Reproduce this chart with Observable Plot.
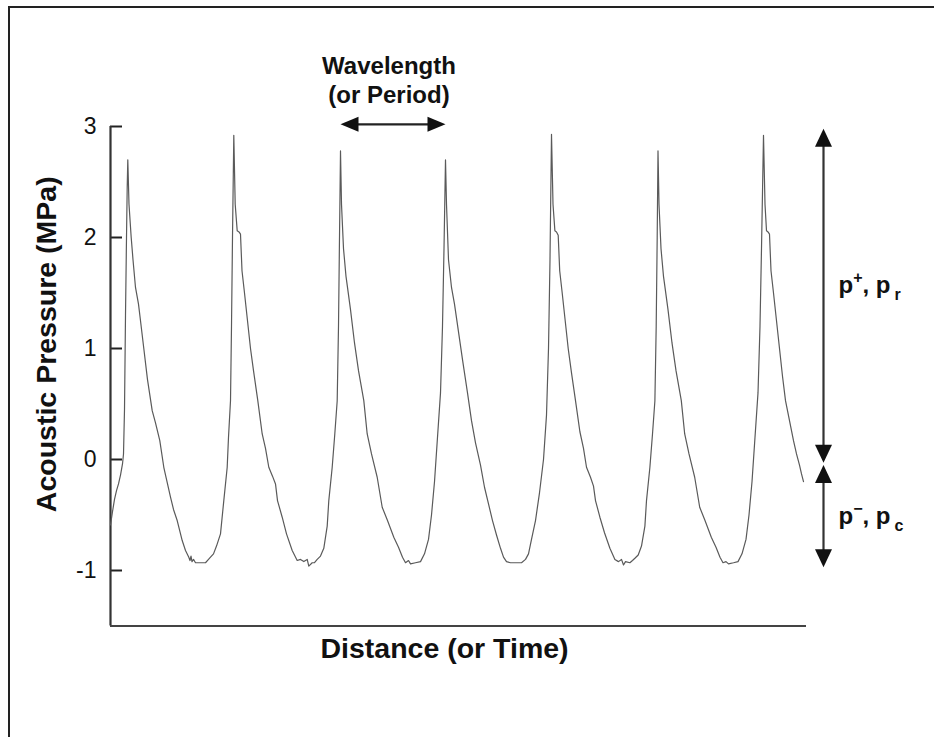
<!DOCTYPE html>
<html><head><meta charset="utf-8">
<script src="https://cdn.jsdelivr.net/npm/d3@7"></script>
<script src="https://cdn.jsdelivr.net/npm/@observablehq/plot@0.6"></script>
<style>
html,body{margin:0;padding:0;background:#fff;overflow:hidden;width:934px;height:737px;}
#chart{position:absolute;left:0;top:0;}
#frame{position:absolute;left:8px;top:6px;width:960px;height:760px;border-left:2px solid #222;border-top:2px solid #222;pointer-events:none;}
</style></head><body>
<div id="chart"></div><div id="frame"></div>
<script>
// ---- data (distance in arbitrary units, pressure in MPa) ----
const yTicks = [3, 2, 1, 0, -1];
const yDomain = [-1.5, 3];
const xDomain = [0, 696];
const yTitle = "Acoustic Pressure (MPa)";
const xTitle = "Distance (or Time)";
const waveLabel = "Wavelength\n(or Period)";

const cycle1 = [[0,-0.59],[2,-0.47],[4,-0.36],[6,-0.28],[8,-0.22],[10,-0.14],[12,-0.04],[13,0.05],[14,0.45],[15,1.3],[16,2.0],[16.7,2.45],[17.3,2.70],
  [18.5,2.3],[20.7,2.0],[22.5,1.8],[25,1.55],[28,1.4],[30,1.25],[33.3,1.0],[37,0.72],[41.7,0.44],[45,0.33],[49.3,0.17],[53.3,-0.07],[56,-0.18],[60,-0.34],[63,-0.45],[66.7,-0.55],[71.7,-0.73],[75,-0.82],[78.3,-0.88],[79.5,-0.91],[80.5,-0.87],[81.5,-0.92],[83,-0.9],[85,-0.93],[90,-0.93],[95,-0.93],[98,-0.9],[100,-0.88],[103,-0.85],[106,-0.78],[110,-0.67],[113.3,-0.37],[116.7,-0.07],[118,0.2],[120,0.53],[121,1.2],[122,2.0]];
const cycle2 = [[123.3,2.92],[124.7,2.3],[126.7,2.06],[128.5,2.05],[130,2.03],[131.5,1.7],[134,1.5],[137,1.25],[140,1.0],[143,0.8],[147.3,0.53],[151.7,0.23],[155,0.1],[158.3,-0.07],[162,-0.15],[165,-0.22],[167,-0.37],[171.7,-0.52],[176,-0.67],[181.7,-0.82],[186.7,-0.91],[190,-0.9],[193.3,-0.92],[196.7,-0.9],[198.3,-0.96],[201.7,-0.93],[204,-0.93],[206.7,-0.9],[210,-0.87],[213.3,-0.8],[216.7,-0.6],[218.3,-0.37],[221.7,-0.07],[224.3,0.23],[226.7,0.53],[228,1.2],[229,2.0]];
const cycle3 = [[230,2.78],[231,2.3],[233,1.9],[235.5,1.65],[237,1.55],[240,1.35],[244,1.05],[248,0.8],[253.3,0.53],[256.7,0.23],[261,0.05],[266.7,-0.16],[271.7,-0.43],[277,-0.55],[283.3,-0.7],[288,-0.79],[292,-0.88],[295,-0.93],[298,-0.91],[300,-0.94],[305,-0.93],[310,-0.92],[314,-0.85],[318,-0.72],[321,-0.5],[324,-0.2],[327,0.2],[330,0.6],[332,1.2],[333.5,1.9]];
const cycle4 = [[335,2.7],[336,2.3],[338,1.8],[341,1.55],[344,1.4],[348,1.15],[352,0.9],[357,0.6],[361,0.35],[365,0.15],[370,-0.05],[374,-0.25],[378,-0.4],[382,-0.55],[386,-0.68],[390,-0.8],[393,-0.88],[396,-0.92],[400,-0.93],[406,-0.93],[411,-0.93],[415,-0.9],[418,-0.85],[421,-0.72],[425,-0.55],[429,-0.3],[433,0.0],[436,0.4],[438,1.0],[439.5,1.8]];
const cycle5 = [[441,2.93],[442.5,2.3],[444.4,2.06],[446,2.05],[447.7,2.02],[449.2,1.7],[451.7,1.5],[454.7,1.25],[457.7,1.0],[461,0.78],[465,0.53],[469.4,0.25],[473,0.1],[476,-0.07],[480,-0.16],[483,-0.24],[485,-0.37],[489.4,-0.52],[494,-0.66],[499.4,-0.8],[504.4,-0.9],[508,-0.92],[511,-0.9],[513,-0.95],[515,-0.92],[519.4,-0.93],[522,-0.91],[524.4,-0.89],[527.7,-0.86],[531,-0.78],[534.4,-0.6],[536,-0.37],[539.4,-0.07],[542,0.23],[544.4,0.53],[545.7,1.2],[546.7,2.0]];
const cycle6 = [[547.5,2.78],[548.5,2.3],[550.5,1.9],[553,1.65],[554.5,1.55],[557.5,1.35],[561.5,1.05],[565.5,0.8],[570.8,0.53],[574.2,0.23],[578.5,0.05],[584.2,-0.16],[589.2,-0.43],[594.5,-0.55],[600.8,-0.7],[605.5,-0.79],[609.5,-0.88],[612.5,-0.93],[615.5,-0.92],[618,-0.94],[623,-0.93],[627.5,-0.92],[631.5,-0.85],[635.5,-0.72],[638.5,-0.5],[641.5,-0.2],[644.5,0.2],[647.5,0.6],[649.5,1.2],[651,1.9]];
const cycle7 = [[653,2.92],[654.5,2.3],[656,2.06],[657.5,2.05],[659,2.03],[660.5,1.7],[663,1.5],[666,1.25],[669,1.0],[672,0.75],[675,0.53],[679,0.35],[683,0.17],[686,0.05],[689,-0.05],[691,-0.13],[693,-0.2]];

// annotations (data units)
const wavelengthArrow = {x1: 230, x2: 335, y: 3.02};
const pressureArrows = [{x: 713, y1: 2.98, y2: -0.03}, {x: 713, y1: -0.05, y2: -0.97}];
const ampLabels = [{x: 728, y: 1.57, key: "plus"}, {x: 728, y: -0.51, key: "minus"}];

const wave = [cycle1, cycle2, cycle3, cycle4, cycle5, cycle6, cycle7].flat().map(([d, p]) => ({d, p}));

function head(dir, len, wid) {
  return {draw(ctx, size) {
    const k = Math.sqrt(size / Math.PI) / 7.5;
    const L = len * k, W = wid * k / 2;
    ctx.moveTo(0, 0);
    if (dir === "up") { ctx.lineTo(-W, L); ctx.lineTo(W, L); }
    else if (dir === "down") { ctx.lineTo(-W, -L); ctx.lineTo(W, -L); }
    else if (dir === "left") { ctx.lineTo(L, -W); ctx.lineTo(L, W); }
    else { ctx.lineTo(-L, -W); ctx.lineTo(-L, W); }
    ctx.closePath();
  }};
}
const headsV = [
  {x: pressureArrows[0].x, y: pressureArrows[0].y1, s: head("up", 18, 17)},
  {x: pressureArrows[0].x, y: pressureArrows[0].y2, s: head("down", 18, 17)},
  {x: pressureArrows[1].x, y: pressureArrows[1].y1, s: head("up", 18, 17)},
  {x: pressureArrows[1].x, y: pressureArrows[1].y2, s: head("down", 18, 17)}
];
const headsH = [
  {x: wavelengthArrow.x1, y: wavelengthArrow.y, s: head("left", 18, 15)},
  {x: wavelengthArrow.x2, y: wavelengthArrow.y, s: head("right", 18, 15)}
];

const font = "'Liberation Sans', Arial, Helvetica, sans-serif";
const ink = "#111";

const chart = Plot.plot({
  width: 934, height: 737,
  marginLeft: 110, marginRight: 128, marginTop: 126, marginBottom: 111.5,
  x: {domain: xDomain, axis: null},
  y: {domain: yDomain, axis: null},
  style: {fontFamily: font, background: "transparent", overflow: "visible", color: ink},
  marks: [
    Plot.axisY(yTicks, {anchor: "left", tickSize: -12, tickFormat: () => "", strokeWidth: 2, stroke: "#222", label: null}),
    Plot.text(yTicks, {x: xDomain[0], y: d => d, text: d => String(d), textAnchor: "end", dx: -14, fontSize: 23, fill: ink}),
    Plot.ruleX([xDomain[0]], {y1: yDomain[0], y2: yDomain[1], stroke: "#333", strokeWidth: 2.2}),
    Plot.ruleY([yDomain[0]], {x1: xDomain[0], x2: xDomain[1], stroke: "#444", strokeWidth: 2.2}),
    Plot.line(wave, {x: "d", y: "p", stroke: "#5a5a5a", strokeWidth: 1.2}),
    Plot.ruleX(pressureArrows, {x: "x", y1: "y1", y2: "y2", stroke: "#333", strokeWidth: 2.2, insetTop: 6, insetBottom: 6}),
    Plot.ruleY([wavelengthArrow], {y: "y", x1: "x1", x2: "x2", stroke: "#222", strokeWidth: 2.2, insetLeft: 6, insetRight: 6}),
    Plot.dot(headsV, {x: "x", y: "y", symbol: d => d.s, r: 7.5, fill: "#111", stroke: "none"}),
    Plot.dot(headsH, {x: "x", y: "y", symbol: d => d.s, r: 7.5, fill: "#111", stroke: "none"}),
    Plot.text([wavelengthArrow], {x: d => (d.x1 + d.x2) / 2, y: "y", text: () => waveLabel, lineAnchor: "bottom", dx: -4, dy: -21, fontSize: 24, fontWeight: "bold", lineHeight: 1.22, fill: ink}),
    Plot.text(ampLabels, {x: "x", y: "y", text: "key", textAnchor: "start", fontSize: 24, fontWeight: "bold", fill: ink}),
    Plot.text([xTitle], {frameAnchor: "bottom", text: d => d, textAnchor: "middle", dx: -14, dy: 32, fontSize: 28.5, fontWeight: "bold", fill: ink}),
    Plot.text([yTitle], {frameAnchor: "left", text: d => d, textAnchor: "middle", rotate: -90, dx: -64, dy: -32, fontSize: 28.5, fontWeight: "bold", fill: ink})
  ]
});
document.getElementById("chart").appendChild(chart);

// superscripts / subscripts for p+, pr and p-, pc
const rich = {
  plus: 'p<tspan dy="-10" font-size="16">+</tspan><tspan dy="10">, p</tspan><tspan dx="4" dy="7" font-size="16">r</tspan>',
  minus: 'p<tspan dy="-10" font-size="16">\u2212</tspan><tspan dy="10">, p</tspan><tspan dx="4" dy="7" font-size="16">c</tspan>'
};
chart.querySelectorAll("text").forEach(t => {
  const k = t.textContent;
  if (rich[k]) t.innerHTML = rich[k];
});
</script></body></html>
